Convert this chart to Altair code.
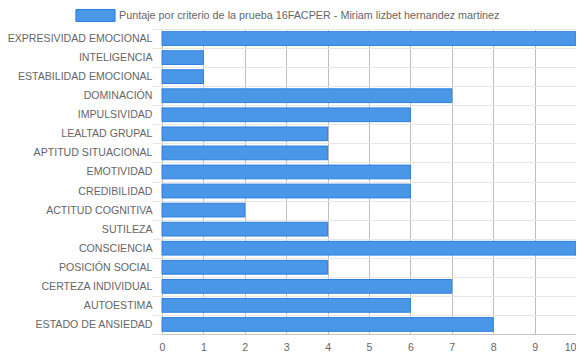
import altair as alt
import pandas as pd

criterios = [
    "EXPRESIVIDAD EMOCIONAL", "INTELIGENCIA", "ESTABILIDAD EMOCIONAL", "DOMINACIÓN",
    "IMPULSIVIDAD", "LEALTAD GRUPAL", "APTITUD SITUACIONAL", "EMOTIVIDAD",
    "CREDIBILIDAD", "ACTITUD COGNITIVA", "SUTILEZA", "CONSCIENCIA",
    "POSICIÓN SOCIAL", "CERTEZA INDIVIDUAL", "AUTOESTIMA", "ESTADO DE ANSIEDAD",
]
puntajes = [10, 1, 1, 7, 6, 4, 4, 6, 6, 2, 4, 10, 4, 7, 6, 8]
serie = "Puntaje por criterio de la prueba 16FACPER - Miriam lizbet hernandez martinez"
ticks_x = [0, 1, 2, 3, 4, 5, 6, 7, 8, 9, 10]

df = pd.DataFrame({
    "criterio": criterios,
    "puntaje": puntajes,
    "serie": [serie] * len(criterios),
})

FONT = "Arial, Liberation Sans, sans-serif"
TXT = "#666666"
FS = 10.6

chart = alt.Chart(df).mark_bar(
    height={"band": 0.72},
    stroke="#2c7fe0",
    strokeWidth=1,
    opacity=1,
).encode(
    y=alt.Y(
        "criterio:N",
        sort=criterios,
        title=None,
        scale=alt.Scale(paddingInner=0, paddingOuter=0),
        axis=alt.Axis(
            tickBand="extent",
            grid=True,
            gridColor="#e6e6e6",
            ticks=True,
            tickColor="#e6e6e6",
            tickSize=10,
            labelPadding=0,
            labelFont=FONT,
            labelFontSize=FS,
            labelColor=TXT,
            labelLimit=200,
            domain=False,
        ),
    ),
    x=alt.X(
        "puntaje:Q",
        title=None,
        scale=alt.Scale(domain=[0, 10], nice=False, zero=True),
        axis=alt.Axis(
            values=ticks_x,
            grid=True,
            gridColor="#bdbdbd",
            ticks=False,
            labelPadding=8,
            labelFont=FONT,
            labelFontSize=FS,
            labelColor=TXT,
            labelAlign=alt.ExprRef("datum.value == 10 ? 'right' : 'center'"),
            domainColor="#c8c8c8",
        ),
    ),
    color=alt.Color(
        "serie:N",
        scale=alt.Scale(range=["#4a97e8"]),
        legend=alt.Legend(
            title=None,
            orient="none",
            legendX=-81,
            legendY=-28,
            padding=0,
            symbolType="M-1.4,-0.43H1.4V0.43H-1.4Z",
            symbolSize=784,
            symbolStrokeColor="#2c7fe0",
            symbolStrokeWidth=1,
            symbolFillColor="#4a97e8",
            symbolOpacity=1,
            labelOffset=9,
            labelFont=FONT,
            labelFontSize=10.8,
            labelColor=TXT,
            labelLimit=600,
        ),
    ),
).properties(
    width=414,
    height=305,
    autosize=alt.AutoSizeParams(type="none"),
    padding={"left": 154, "top": 21, "right": 0, "bottom": 22},
).configure_view(stroke=None)

chart.save("out.html", embed_options={"renderer": "svg", "actions": False})
